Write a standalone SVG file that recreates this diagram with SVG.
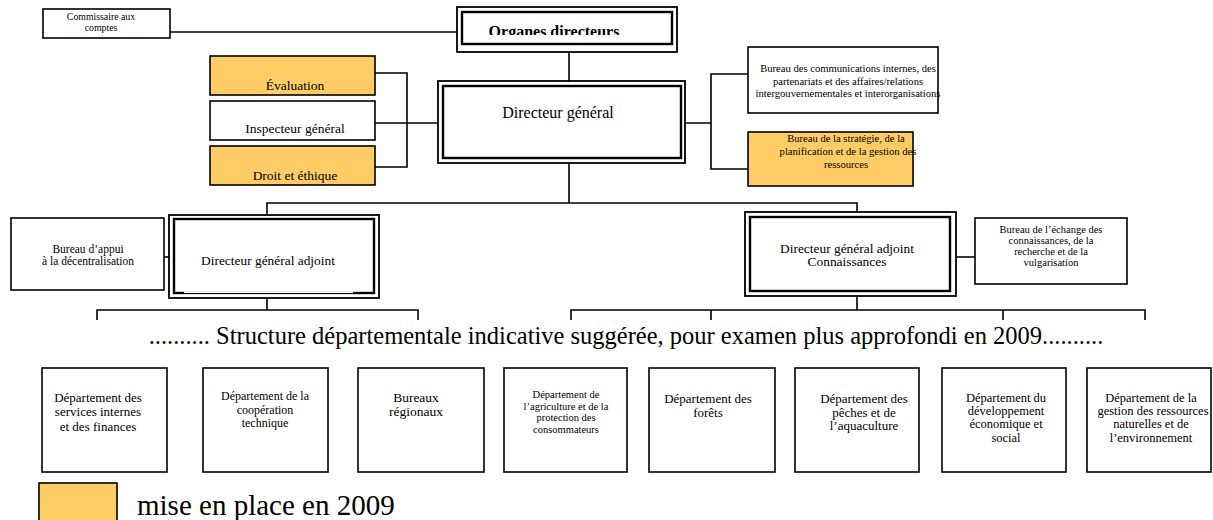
<svg xmlns="http://www.w3.org/2000/svg" width="1213" height="520" viewBox="0 0 1213 520">
<defs>
<style>
text{font-family:"Liberation Serif","Times New Roman",serif;fill:#000;text-anchor:middle}
.box{fill:#fff;stroke:#000;stroke-width:1.6}
.yel{fill:#FFCC66;stroke:#000;stroke-width:1.6}
.out{fill:#fff;stroke:#000;stroke-width:1.8}
.in{fill:none;stroke:#000;stroke-width:2.4}
.ln{fill:none;stroke:#000;stroke-width:1.6}
.side{font-size:13.5px}
.bur{font-size:10.6px}
.dga{font-size:13.4px}
.d13{font-size:13px}
.d12{font-size:12px}
.d125{font-size:12.5px}
.d105{font-size:10.5px}
</style>
<clipPath id="clipOrg"><rect x="458" y="8" width="216" height="27"/></clipPath>
</defs>
<rect width="1213" height="520" fill="#fff"/>
<g id="connectors">
<path class="ln" d="M170 32 H458"/>
<path class="ln" d="M569 52 V81"/>
<path class="ln" d="M375 73 H407 V167 H375 M375 123 H438"/>
<path class="ln" d="M685 123 H711 M748 74 H711 V169 H748"/>
<path class="ln" d="M569 163 V203 M267 215 V203 H857 V212"/>
<path class="ln" d="M164 257 H169"/>
<path class="ln" d="M956 257 H975"/>
<path class="ln" d="M267 298 V310 M97 320 V310 H418 V320"/>
<path class="ln" d="M857 296 V310 M571 320 V310 H1145 V320 M711 310 V320 M1003 310 V320"/>
</g>
<g id="commissaire">
<rect class="box" x="43" y="9" width="127" height="29"/>
<text x="101" y="20" font-size="9.8">Commissaire aux</text>
<text x="101" y="31" font-size="9.8">comptes</text>
</g>
<g id="organes">
<rect class="out" x="457" y="7" width="220" height="45"/>
<rect class="in" x="462" y="12" width="210" height="32"/>
<text x="554" y="37" font-size="16" font-weight="bold" clip-path="url(#clipOrg)">Organes directeurs</text>
</g>
<g id="dg">
<rect class="out" x="438" y="81" width="247" height="82"/>
<rect class="in" x="443" y="86" width="238" height="72"/>
<text x="558" y="118" font-size="16">Directeur général</text>
</g>
<g id="evaluation">
<rect class="yel" x="210" y="56" width="165" height="39"/>
<text class="side" x="295" y="90">Évaluation</text>
</g>
<g id="inspecteur">
<rect class="box" x="210" y="101" width="165" height="39"/>
<text class="side" x="295" y="133">Inspecteur général</text>
</g>
<g id="droit">
<rect class="yel" x="210" y="146" width="165" height="39"/>
<text class="side" x="295" y="180">Droit et éthique</text>
</g>
<g id="bureau-comm">
<rect class="box" x="748" y="47" width="190" height="66"/>
<text class="bur" x="848" y="72">Bureau des communications internes, des</text>
<text class="bur" x="848" y="84.5">partenariats et des affaires/relations</text>
<text class="bur" x="848" y="97">intergouvernementales et interorganisations</text>
</g>
<g id="bureau-strat">
<rect class="yel" x="748" y="132" width="165" height="54"/>
<text class="bur" x="846" y="142">Bureau de la stratégie, de la</text>
<text class="bur" x="848" y="155">planification et de la gestion des</text>
<text class="bur" x="846" y="168">ressources</text>
</g>
<g id="bureau-appui">
<rect class="box" x="11" y="218" width="153" height="72"/>
<text x="88" y="253" font-size="11.5">Bureau d’appui</text>
<text x="88" y="265" font-size="11.5">à la décentralisation</text>
</g>
<g id="dga">
<rect class="out" x="169" y="215" width="210" height="83"/>
<rect class="in" x="174" y="219" width="200" height="74"/>
<path d="M184 293 H353" stroke="#fff" stroke-width="3"/>
<path d="M184 293.5 H353" stroke="#000" stroke-width="1"/>
<text class="dga" x="268" y="265">Directeur général adjoint</text>
</g>
<g id="dga-connaissances">
<rect class="out" x="745" y="212" width="211" height="84"/>
<rect class="in" x="750" y="217" width="200" height="74"/>
<text class="dga" x="847" y="253">Directeur général adjoint</text>
<text class="dga" x="847" y="266">Connaissances</text>
</g>
<g id="bureau-echange">
<rect class="box" x="975" y="218" width="152" height="66"/>
<text x="1051" y="233" font-size="10.5">Bureau de l’échange des</text>
<text x="1051" y="244" font-size="10.5">connaissances, de la</text>
<text x="1051" y="255" font-size="10.5">recherche et de la</text>
<text x="1051" y="266" font-size="10.5">vulgarisation</text>
</g>
<g id="structure-label">
<text x="626" y="344" font-size="24.5">.......... Structure départementale indicative suggérée, pour examen plus approfondi en 2009..........</text>
</g>
<g id="dep1">
<rect class="box" x="42" y="368" width="125" height="104"/>
<text class="d13" x="98" y="402">Département des</text>
<text class="d13" x="98" y="416">services internes</text>
<text class="d13" x="98" y="431">et des finances</text>
</g>
<g id="dep2">
<rect class="box" x="203" y="368" width="125" height="104"/>
<text class="d12" x="265" y="400">Département de la</text>
<text class="d12" x="265" y="414">coopération</text>
<text class="d12" x="265" y="427">technique</text>
</g>
<g id="dep3">
<rect class="box" x="358" y="368" width="126" height="104"/>
<text x="416" y="402" font-size="13.5">Bureaux</text>
<text x="416" y="416" font-size="13.5">régionaux</text>
</g>
<g id="dep4">
<rect class="box" x="504" y="368" width="123" height="104"/>
<text class="d105" x="566" y="398">Département de</text>
<text class="d105" x="566" y="409.5">l’agriculture et de la</text>
<text class="d105" x="566" y="421">protection des</text>
<text class="d105" x="566" y="432.5">consommateurs</text>
</g>
<g id="dep5">
<rect class="box" x="649" y="368" width="126" height="104"/>
<text class="d13" x="708" y="403">Département des</text>
<text class="d13" x="708" y="417">forêts</text>
</g>
<g id="dep6">
<rect class="box" x="795" y="368" width="124" height="104"/>
<text class="d13" x="864" y="403">Département des</text>
<text class="d13" x="864" y="417">pêches et de</text>
<text class="d13" x="864" y="430">l’aquaculture</text>
</g>
<g id="dep7">
<rect class="box" x="942" y="368" width="124" height="104"/>
<text class="d125" x="1006" y="402">Département du</text>
<text class="d125" x="1006" y="415">développement</text>
<text class="d125" x="1006" y="428">économique et</text>
<text class="d125" x="1006" y="442">social</text>
</g>
<g id="dep8">
<rect class="box" x="1087" y="368" width="124" height="104"/>
<text class="d125" x="1151" y="402">Département de la</text>
<text class="d125" x="1153" y="415">gestion des ressources</text>
<text class="d125" x="1151" y="428">naturelles et de</text>
<text class="d125" x="1151" y="442">l’environnement</text>
</g>
<g id="legend">
<rect class="yel" x="39" y="483" width="78" height="40"/>
<text x="137" y="515" font-size="29" style="text-anchor:start">mise en place en 2009</text>
</g>
</svg>
